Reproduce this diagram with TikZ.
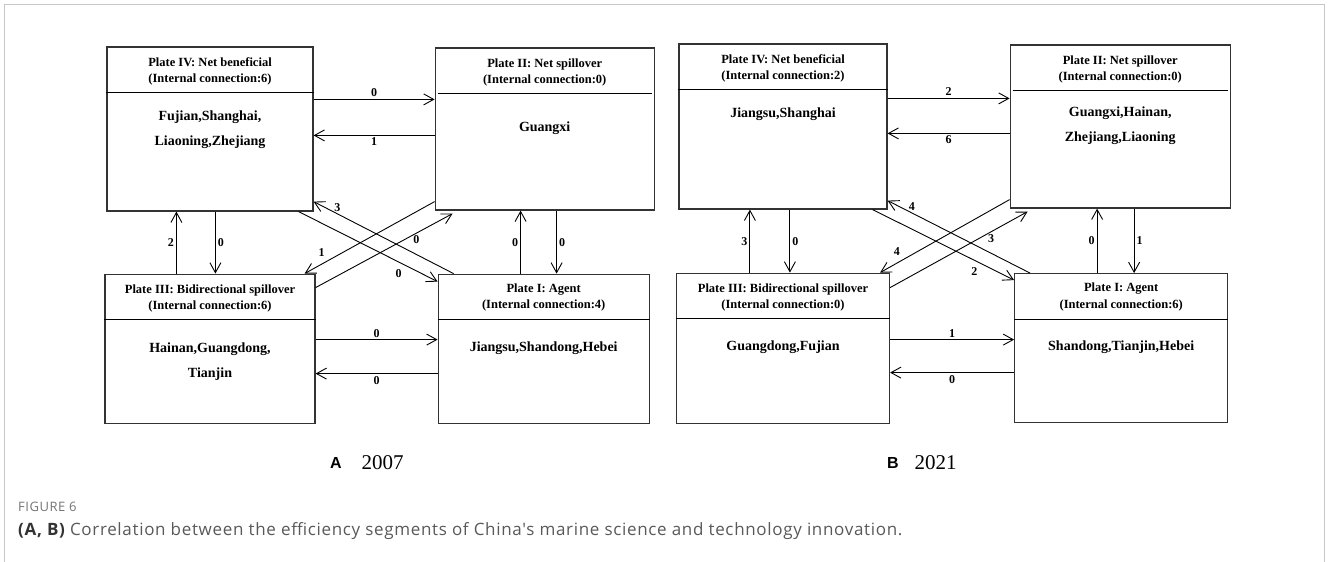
\documentclass[tikz,border=0pt]{standalone}
\usepackage{fontspec}
\setmainfont{Liberation Serif}
\newfontfamily\capfont[LetterSpace=4]{Open Sans}
\newfontfamily\panelfont{Liberation Sans}
\usetikzlibrary{positioning, arrows.meta}

\begin{document}
\begin{tikzpicture}[x=1pt, y=-1pt,
    plate/.style={draw=black!80, line width=1.2pt, inner sep=0pt},
    head/.style={font=\bfseries\fontsize{12.5}{16.5}\selectfont, align=center, inner sep=0pt},
    members/.style={font=\bfseries\fontsize{14}{25}\selectfont, align=center, inner sep=0pt},
    link/.style={-{Straight Barb[length=10pt, width=11pt]}, line width=0.9pt},
    num/.style={font=\bfseries\fontsize{12}{12}\selectfont, inner sep=2pt}]
        \useasboundingbox (0,0) rectangle (1328,562);
        \draw[black!22, line width=1pt] (4,562) -- (4,4) -- (1324,4) -- (1324,562);

        \node[plate, minimum width=206pt, minimum height=164pt] (a4) at (210,129) {};
        \node[plate, minimum width=219pt, minimum height=162pt] (a2) [right=121pt of a4] {};
        \node[plate, minimum width=210pt, minimum height=149pt] (a3) [below=62pt of a4] {};
        \node[plate, minimum width=211pt, minimum height=149pt] (a1) [right=122pt of a3] {};

        \draw[line width=0.9pt] ([yshift=-46pt]a4.north west) -- ([yshift=-46pt]a4.north east);
        \draw[line width=0.9pt] ([xshift=3pt, yshift=-46pt]a2.north west) -- ([xshift=-3pt, yshift=-46pt]a2.north east);
        \draw[line width=0.9pt] ([yshift=-46pt]a3.north west) -- ([yshift=-46pt]a3.north east);
        \draw[line width=0.9pt] ([yshift=-46pt]a1.north west) -- ([yshift=-46pt]a1.north east);

        \node[head] (a4h) at ([yshift=-25pt]a4.north) {Plate IV: Net beneficial\\(Internal connection:6)};
        \node[head] (a2h) at ([yshift=-25pt]a2.north) {Plate II: Net spillover\\(Internal connection:0)};
        \node[head] (a3h) at ([yshift=-25pt]a3.north) {Plate III: Bidirectional spillover\\(Internal connection:6)};
        \node[head] (a1h) at ([yshift=-24pt]a1.north) {Plate I: Agent\\(Internal connection:4)};

        \node[members] (a4m) at ([yshift=-83pt]a4.north) {Fujian,Shanghai,\\Liaoning,Zhejiang};
        \node[members] (a2m) at ([yshift=-81pt]a2.north) {Guangxi};
        \node[members] (a3m) at ([yshift=-88pt]a3.north) {Hainan,Guangdong,\\Tianjin};
        \node[members] (a1m) at ([yshift=-75pt]a1.north) {Jiangsu,Shandong,Hebei};

        \draw[link] ([yshift=-53pt]a4.north east) -- node[num, above] {0} ([yshift=-53pt]a4.north east -| a2.west);
        \draw[link] ([yshift=-89pt]a4.north east -| a2.west) -- node[num, below] {1} ([yshift=-89pt]a4.north east);
        \draw[link] ([yshift=-66pt]a3.north east) -- node[num, above] {0} ([yshift=-66pt]a3.north east -| a1.west);
        \draw[link] ([yshift=-100pt]a3.north east -| a1.west) -- node[num, below] {0} ([yshift=-100pt]a3.north east);
        \draw[link] ([xshift=72pt]a3.north west) -- node[num, left] {2} ([xshift=72pt]a3.north west |- a4.south);
        \draw[link] ([xshift=111pt]a3.north west |- a4.south) -- node[num, right] {0} ([xshift=111pt]a3.north west);
        \draw[link] ([xshift=83pt]a1.north west) -- node[num, left] {0} ([xshift=83pt]a1.north west |- a2.south);
        \draw[link] ([xshift=119pt]a1.north west |- a2.south) -- node[num, right] {0} ([xshift=119pt]a1.north west);
        \draw[link] ([xshift=-15pt]a4.south east) -- node[num, pos=0.72, below=5pt] {0} ([yshift=-8pt]a1.north west);
        \draw[link] ([xshift=16pt]a1.north west) -- node[num, pos=0.83, above] {3} ([yshift=10pt]a4.south east);
        \draw[link] ([yshift=9pt]a2.south west) -- node[num, pos=0.87, above=5pt] {1} ([xshift=-11pt]a3.north east);
        \draw[link] ([yshift=-14pt]a3.north east) -- node[num, pos=0.735, below] {0} ([xshift=18pt, yshift=-3pt]a2.south west);

        \node[plate, minimum width=208pt, minimum height=165pt] (b4) at (783,126.5) {};
        \node[plate, minimum width=220pt, minimum height=163pt] (b2) [right=122pt of b4] {};
        \node[plate, minimum width=213pt, minimum height=150pt] (b3) [below=63pt of b4] {};
        \node[plate, minimum width=213pt, minimum height=149pt] (b1) [right=124pt of b3] {};

        \draw[line width=0.9pt] ([yshift=-46pt]b4.north west) -- ([yshift=-46pt]b4.north east);
        \draw[line width=0.9pt] ([xshift=3pt, yshift=-46pt]b2.north west) -- ([xshift=-3pt, yshift=-46pt]b2.north east);
        \draw[line width=0.9pt] ([yshift=-46pt]b3.north west) -- ([yshift=-46pt]b3.north east);
        \draw[line width=0.9pt] ([yshift=-46pt]b1.north west) -- ([yshift=-46pt]b1.north east);

        \node[head] (b4h) at ([yshift=-25pt]b4.north) {Plate IV: Net beneficial\\(Internal connection:2)};
        \node[head] (b2h) at ([yshift=-25pt]b2.north) {Plate II: Net spillover\\(Internal connection:0)};
        \node[head] (b3h) at ([yshift=-25pt]b3.north) {Plate III: Bidirectional spillover\\(Internal connection:0)};
        \node[head] (b1h) at ([yshift=-24pt]b1.north) {Plate I: Agent\\(Internal connection:6)};

        \node[members] (b4m) at ([yshift=-71pt]b4.north) {Jiangsu,Shanghai};
        \node[members] (b2m) at ([yshift=-81pt]b2.north) {Guangxi,Hainan,\\Zhejiang,Liaoning};
        \node[members] (b3m) at ([yshift=-75pt]b3.north) {Guangdong,Fujian};
        \node[members] (b1m) at ([yshift=-74pt]b1.north) {Shandong,Tianjin,Hebei};

        \draw[link] ([yshift=-55pt]b4.north east) -- node[num, above] {2} ([yshift=-55pt]b4.north east -| b2.west);
        \draw[link] ([yshift=-90pt]b4.north east -| b2.west) -- node[num, below] {6} ([yshift=-90pt]b4.north east);
        \draw[link] ([yshift=-67pt]b3.north east) -- node[num, above] {1} ([yshift=-67pt]b3.north east -| b1.west);
        \draw[link] ([yshift=-100pt]b3.north east -| b1.west) -- node[num, below] {0} ([yshift=-100pt]b3.north east);
        \draw[link] ([xshift=74pt]b3.north west) -- node[num, left] {3} ([xshift=74pt]b3.north west |- b4.south);
        \draw[link] ([xshift=114pt]b3.north west |- b4.south) -- node[num, right] {0} ([xshift=114pt]b3.north west);
        \draw[link] ([xshift=83pt]b1.north west) -- node[num, left] {0} ([xshift=83pt]b1.north west |- b2.south);
        \draw[link] ([xshift=120pt]b1.north west |- b2.south) -- node[num, right] {1} ([xshift=120pt]b1.north west);
        \draw[link] ([xshift=-15pt]b4.south east) -- node[num, pos=0.72, below=5pt] {2} ([yshift=-7pt]b1.north west);
        \draw[link] ([xshift=16pt]b1.north west) -- node[num, pos=0.83, above] {4} ([yshift=9pt]b4.south east);
        \draw[link] ([yshift=9pt]b2.south west) -- node[num, pos=0.87, above=5pt] {4} ([xshift=-10pt]b3.north east);
        \draw[link] ([yshift=-15pt]b3.north east) -- node[num, pos=0.735, below] {3} ([xshift=18pt, yshift=-3pt]b2.south west);

        \node[font=\panelfont\bfseries\fontsize{16}{16}\selectfont] (ta) at (336,463) {A};
        \node[font=\fontsize{21}{21}\selectfont, anchor=west] (ya) at (358,463) {2007};
        \node[font=\panelfont\bfseries\fontsize{16}{16}\selectfont] (tb) at (893,463) {B};
        \node[font=\fontsize{21}{21}\selectfont, anchor=west] (yb) at (911,463) {2021};

        \node[font=\capfont\fontsize{13}{13}\selectfont, text=black!55, anchor=west, inner sep=0pt] (fig) at (18,507) {FIGURE 6};
        \node[font=\capfont\fontsize{17}{17}\selectfont, text=black!65, anchor=west, inner sep=0pt] (cap) at (18,531) {{\bfseries\color{black!80}(A, B)} Correlation between the efficiency segments of China's marine science and technology innovation.};
\end{tikzpicture}
\end{document}
